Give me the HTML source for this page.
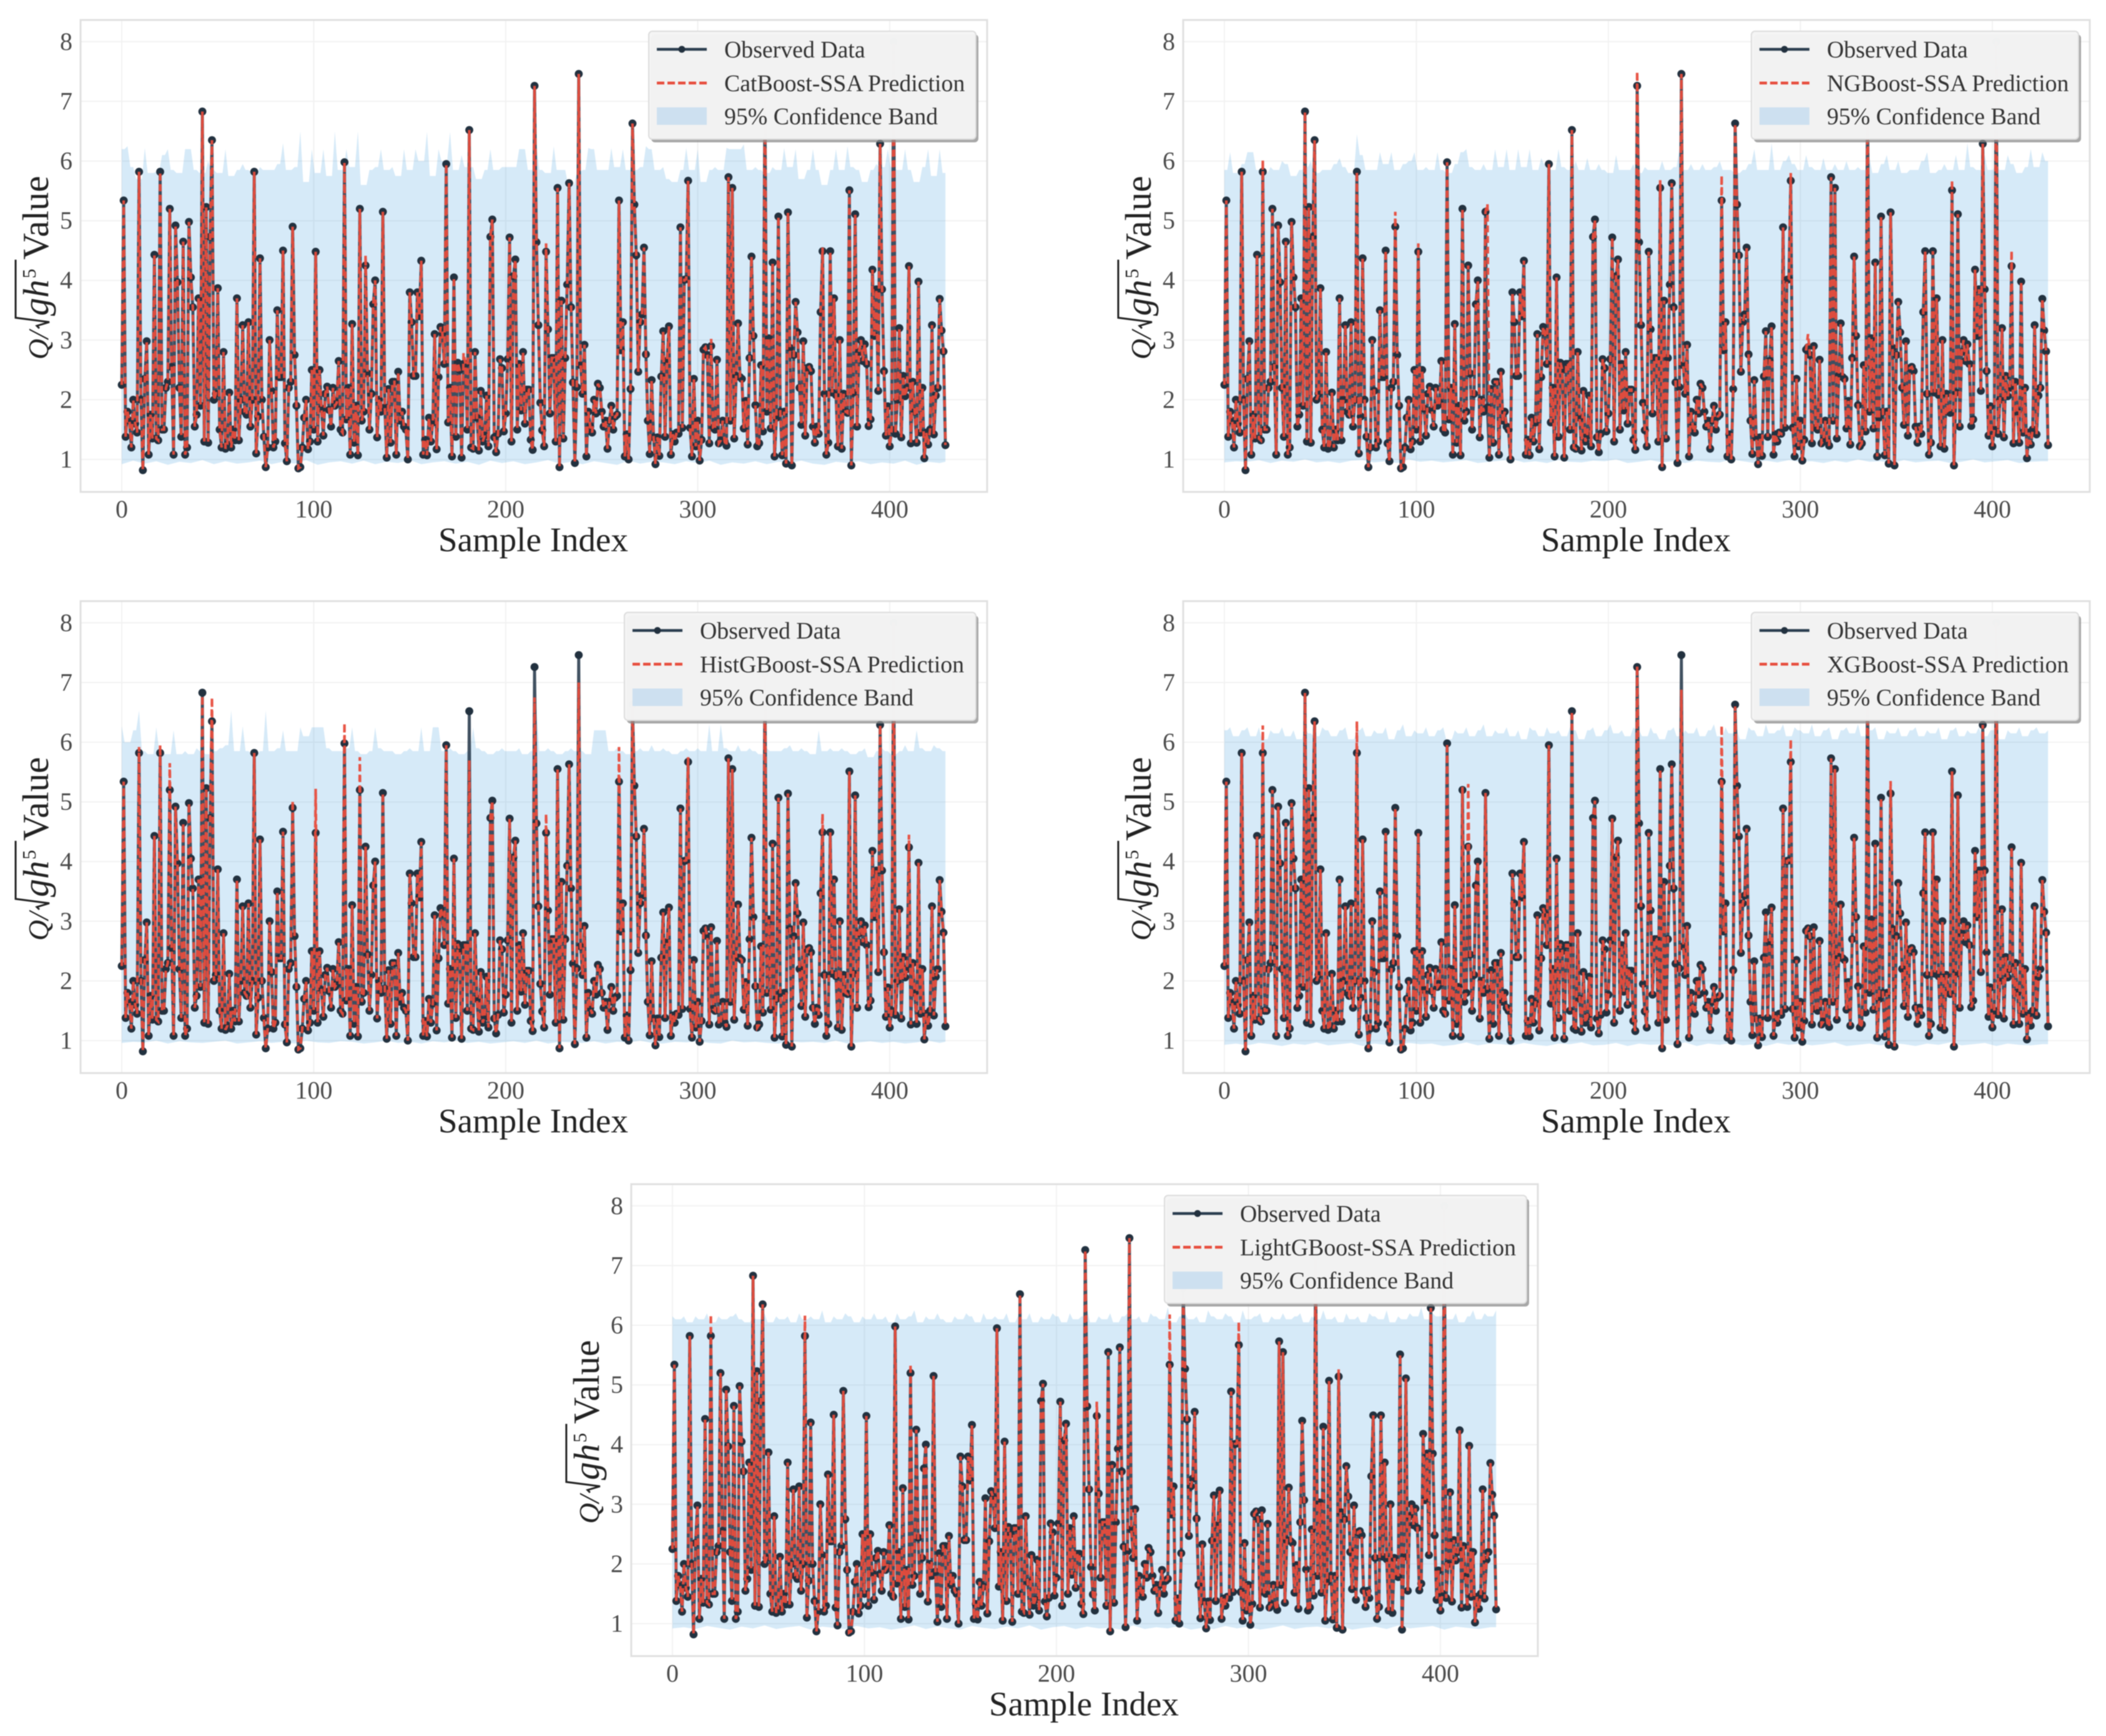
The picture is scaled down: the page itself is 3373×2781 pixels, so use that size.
<!DOCTYPE html>
<html lang="en">
<head>
<meta charset="utf-8">
<title>SSA model predictions versus observed data</title>
<style>
html,body{margin:0;padding:0;background:#fff;}
#figure{display:block;width:3373px;height:2781px;filter:blur(0.8px);font-family:"Liberation Serif",serif;}
</style>
</head>
<body>
<svg id="figure" xmlns="http://www.w3.org/2000/svg" width="3373" height="2781" viewBox="0 0 3373 2781"></svg>
<script>
const xTicks = [0, 100, 200, 300, 400];
const yTicks = [1, 2, 3, 4, 5, 6, 7, 8];
const observed = [
2.25,5.34,1.38,1.8,1.65,1.2,2.0,1.6,1.45,5.82,
2.0,0.82,2.35,2.98,1.08,1.75,1.35,4.43,1.35,1.32,
5.82,1.5,1.5,2.2,2.3,5.2,2.55,1.08,4.92,3.97,
2.2,1.38,4.65,1.08,1.2,4.98,4.05,3.55,1.55,1.75,
3.7,1.9,6.83,1.3,5.23,1.28,4.73,6.35,2.0,2.1,
3.87,1.5,1.2,2.8,1.18,1.25,2.12,1.2,1.5,1.32,
3.7,1.32,2.0,3.25,1.8,1.75,3.3,1.55,2.0,5.82,
1.1,1.72,4.37,2.0,1.38,0.87,1.2,3.0,2.15,1.2,
1.3,3.5,2.38,2.38,4.5,1.27,0.97,2.2,2.3,4.9,
2.75,1.9,0.85,0.87,1.2,1.7,2.0,1.17,1.3,2.5,
1.5,4.48,1.3,2.5,1.85,1.4,2.1,2.22,1.83,1.55,
2.2,1.9,1.95,2.65,1.5,1.45,5.98,1.67,2.2,1.08,
3.27,1.28,1.9,1.07,5.2,1.65,1.8,4.25,2.44,1.5,
2.1,3.6,4.0,1.37,2.0,1.8,5.15,1.87,1.03,2.18,
1.28,2.3,2.3,1.08,2.47,1.65,1.8,1.55,1.5,1.0,
3.8,3.3,2.4,2.4,3.8,3.4,4.33,1.08,1.33,1.07,
1.7,1.3,1.62,3.1,1.17,2.38,3.22,3.12,2.6,5.95,
1.62,2.2,1.05,4.05,1.38,2.62,2.5,1.03,2.6,2.6,
1.5,6.52,1.2,1.18,2.8,1.7,1.15,2.15,1.3,1.4,
2.07,1.22,4.73,5.02,1.37,1.12,1.43,2.68,2.53,1.47,
1.77,2.68,4.72,1.3,4.07,4.35,1.5,2.6,1.82,2.8,
1.6,2.17,2.17,1.33,1.16,7.26,4.64,3.25,1.95,1.49,
1.22,4.48,3.18,1.77,2.7,2.7,1.3,5.55,0.87,3.66,
1.35,2.7,3.93,5.63,3.55,2.29,0.94,2.21,7.46,2.58,
2.1,2.92,1.05,1.8,1.55,1.45,2.0,1.77,2.27,2.2,
1.8,1.55,1.65,1.18,1.65,1.9,1.5,1.72,1.75,5.34,
2.83,3.3,1.05,1.42,1.0,2.18,6.63,5.27,4.42,2.47,
3.3,3.43,4.55,2.76,1.65,1.09,2.33,1.37,0.92,1.37,
1.06,2.39,3.15,1.38,2.65,3.23,1.08,1.42,1.3,1.45,
1.43,4.89,1.53,4.01,4.02,5.67,1.53,1.05,2.35,1.22,
1.65,0.98,1.33,2.84,2.88,2.75,1.27,2.9,1.53,1.5,
2.67,1.27,1.32,1.65,1.3,1.23,5.73,1.65,5.55,1.35,
2.4,3.28,2.38,2.35,1.52,1.98,1.25,2.7,4.4,3.07,
1.91,1.22,1.27,2.58,1.47,7.15,1.8,3.03,1.52,4.3,
1.05,1.7,5.07,1.8,1.07,1.8,0.93,5.14,2.87,0.9,
2.75,3.64,3.13,2.2,1.58,2.98,1.4,2.53,2.55,2.48,
1.55,1.28,1.55,1.43,3.47,4.49,2.1,1.08,1.28,4.49,
2.12,3.7,2.08,1.22,3.0,1.18,2.1,1.8,1.78,5.51,
0.9,2.12,5.11,1.55,2.8,3.0,2.65,2.93,2.6,1.56,
1.67,4.18,3.07,3.85,2.15,6.29,3.85,2.48,1.4,1.89,
1.22,1.5,8.0,1.43,2.0,3.2,1.37,2.4,2.06,2.2,
4.24,1.27,2.3,1.8,1.28,3.98,1.45,2.2,1.02,1.45,
1.25,1.5,3.25,1.42,2.07,2.2,3.69,3.16,2.81,1.24];

// Sample spacing of the band arrays, in sample indices (upper, lower)
const upperStep = 3;
const lowerStep = 6;

const catUpper = [
6.2,6.25,5.9,5.7,6.22,5.8,5.82,6.1,6.2,5.85,5.8,6.2,
6.2,5.85,5.8,6.0,5.85,5.8,6.2,5.75,5.85,5.95,5.85,5.8,
5.9,5.85,5.85,5.95,6.3,5.85,5.9,6.5,5.65,6.2,5.8,6.2,
5.75,6.5,5.85,6.2,5.9,6.5,5.6,5.85,5.9,6.2,5.85,5.9,
5.75,6.2,5.85,6.2,6.0,6.49,5.75,6.2,6.0,6.49,5.85,6.1,
5.9,5.9,5.7,5.85,6.2,5.85,5.9,5.9,5.9,6.2,6.2,5.85,
6.25,5.85,5.8,6.25,5.85,5.85,5.6,5.8,5.85,6.22,6.2,5.85,
5.85,6.22,5.9,6.2,5.85,5.85,5.9,6.25,6.2,5.85,5.9,5.7,
5.65,5.85,6.22,5.85,6.2,5.65,5.85,5.9,5.85,6.22,6.2,6.2,
6.28,5.85,5.9,5.85,5.8,5.9,5.85,6.22,5.9,6.2,5.7,5.85,
6.2,5.85,5.6,5.85,6.2,5.85,6.25,5.9,5.85,5.65,5.85,5.95,
5.9,6.2,5.9,5.85,6.2,5.85,5.65,5.9,6.2,5.75,6.2,5.8];
const ngUpper = [
5.85,6.15,5.8,5.95,6.15,6.15,5.85,5.8,5.9,5.85,6.0,5.95,
5.75,5.85,5.9,6.0,5.8,5.85,5.85,5.95,6.05,5.9,5.8,6.45,
6.1,5.85,5.85,6.15,5.95,6.15,5.85,5.95,6.0,6.15,5.85,5.9,
5.85,6.15,5.85,5.8,5.95,6.15,6.2,5.9,5.85,5.95,5.85,6.2,
5.9,6.2,5.85,6.2,5.9,6.2,5.85,6.05,5.95,5.85,6.2,5.9,
5.85,6.0,5.85,6.05,5.85,5.95,5.85,5.8,6.1,5.85,5.85,5.95,
5.8,5.9,5.85,5.85,6.0,5.85,5.9,6.2,5.85,5.95,5.85,5.95,
5.85,5.9,6.0,5.85,5.85,5.8,5.85,5.95,6.2,5.85,5.85,6.3,
5.85,6.0,6.1,5.95,5.85,6.1,5.9,5.85,6.05,5.85,5.95,5.85,
6.0,5.85,5.9,5.85,6.05,5.8,5.95,6.1,5.85,6.0,5.8,5.85,
5.85,6.0,6.15,5.8,5.85,5.95,5.85,6.1,5.85,6.3,5.9,5.85,
6.1,5.85,6.0,5.85,6.1,5.95,5.8,5.9,6.2,5.9,6.15,6.0];
const histUpper = [
6.27,6.0,6.2,6.53,5.85,5.8,6.25,5.85,5.8,6.2,5.8,5.85,
5.8,5.9,5.85,5.8,5.85,5.9,5.95,6.53,5.85,6.27,5.85,5.8,
5.85,6.53,5.85,5.9,6.2,5.85,5.85,6.25,6.1,6.25,6.25,6.25,
5.9,5.85,5.85,5.9,6.25,5.85,5.8,5.85,6.25,5.9,5.85,5.85,
5.8,5.85,5.9,5.85,6.25,5.85,6.25,6.25,5.85,5.9,5.85,5.8,
5.85,6.25,5.9,5.85,5.8,5.85,5.9,5.85,5.85,5.9,5.8,5.85,
6.53,5.85,5.9,5.85,5.8,5.85,5.9,5.85,5.85,5.8,6.2,6.2,
6.2,5.85,5.9,5.85,5.8,5.85,5.9,5.85,5.95,5.85,5.9,5.85,
5.8,5.85,5.9,5.85,5.9,5.85,6.3,5.85,6.3,5.9,5.85,5.95,
5.85,5.9,5.85,5.8,5.9,5.85,5.85,5.9,5.95,5.85,5.9,5.85,
5.8,6.2,5.85,5.9,5.85,5.9,5.85,5.8,5.85,5.9,5.75,5.85,
5.9,5.85,5.8,5.85,5.95,5.85,6.2,5.9,5.85,5.95,5.9,5.85];
const xgbUpper = [
6.2,6.25,6.1,6.2,6.25,6.1,6.25,6.05,6.2,6.15,6.25,6.1,
6.2,6.05,6.25,6.15,6.1,6.25,6.2,6.1,6.2,6.25,6.05,6.2,
6.25,6.1,6.2,6.15,6.25,6.05,6.2,6.3,6.1,6.2,6.15,6.25,
6.1,6.2,6.25,6.05,6.2,6.15,6.25,6.1,6.2,6.3,6.1,6.2,
6.15,6.25,6.1,6.2,6.05,6.25,6.2,6.1,6.25,6.15,6.2,6.1,
6.25,6.2,6.05,6.2,6.25,6.1,6.2,6.3,6.15,6.2,6.1,6.25,
6.2,6.1,6.25,6.15,6.05,6.2,6.25,6.1,6.2,6.15,6.25,6.1,
6.2,6.3,6.1,6.25,6.15,6.2,6.05,6.25,6.2,6.1,6.3,6.15,
6.2,6.3,6.1,6.25,6.2,6.15,6.3,6.1,6.2,6.25,6.05,6.2,
6.25,6.15,6.3,6.1,6.2,6.25,6.05,6.2,6.15,6.25,6.1,6.2,
6.25,6.1,6.2,6.15,6.25,6.05,6.2,6.25,6.1,6.2,6.15,6.25,
6.1,6.2,6.25,6.05,6.2,6.15,6.25,6.1,6.2,6.25,6.15,6.2];
const lightUpper = [
6.15,6.1,6.15,6.05,6.15,6.1,6.2,6.05,6.15,6.1,6.15,6.2,
6.1,6.05,6.15,6.1,6.2,6.05,6.15,6.1,6.15,6.05,6.2,6.1,
6.15,6.1,6.25,6.05,6.15,6.1,6.2,6.15,6.05,6.15,6.1,6.2,
6.1,6.15,6.05,6.2,6.1,6.15,6.25,6.05,6.15,6.1,6.2,6.1,
6.05,6.15,6.1,6.2,6.15,6.05,6.2,6.1,6.15,6.1,6.2,6.05,
6.15,6.1,6.2,6.05,6.15,6.1,6.2,6.15,6.05,6.2,6.1,6.15,
6.25,6.05,6.15,6.1,6.2,6.05,6.15,6.2,6.1,6.15,6.05,6.2,
6.15,6.1,6.3,6.05,6.15,6.2,6.1,6.15,6.05,6.25,6.15,6.1,
6.2,6.15,6.05,6.25,6.1,6.15,6.2,6.05,6.15,6.1,6.2,6.1,
6.15,6.2,6.05,6.15,6.1,6.25,6.1,6.15,6.05,6.2,6.1,6.15,
6.05,6.2,6.15,6.1,6.25,6.05,6.15,6.1,6.2,6.15,6.3,6.1,
6.2,6.15,6.25,6.1,6.2,6.05,6.15,6.25,6.1,6.2,6.15,6.25];

const catLower = [
0.92,0.98,0.93,0.97,0.91,0.96,0.94,0.99,0.92,0.97,0.93,0.95,
0.98,0.92,0.96,0.93,0.99,0.91,0.95,0.97,0.93,0.98,0.92,0.96,
0.94,0.99,0.92,0.95,0.97,0.93,0.96,0.91,0.98,0.94,0.97,0.92,
0.95,0.99,0.93,0.96,0.92,0.97,0.94,0.91,0.98,0.93,0.96,0.95,
0.92,0.97,0.94,0.98,0.91,0.95,0.93,0.97,0.92,0.96,0.94,0.98,
0.93,0.91,0.96,0.94,0.97,0.92,0.95,0.93,0.98,0.91,0.96,0.94,0.96];
const ngLower = [
0.95,0.97,0.96,0.99,0.94,0.98,0.96,1.0,0.95,0.97,0.94,0.98,
0.99,0.95,0.97,0.94,1.0,0.96,0.98,0.95,0.97,0.99,0.94,0.96,
0.98,1.0,0.95,0.97,0.94,0.99,0.96,0.95,0.98,0.97,1.0,0.94,
0.96,0.99,0.95,0.97,0.94,0.98,0.96,0.95,1.0,0.97,0.94,0.98,
0.95,0.99,0.96,0.97,0.94,0.98,0.95,1.0,0.96,0.97,0.94,0.99,
0.95,0.97,0.98,0.94,0.96,1.0,0.95,0.97,0.99,0.94,0.96,0.97,0.97];
const histLower = [
0.96,0.98,0.97,1.0,0.95,0.99,0.97,0.96,0.98,1.0,0.95,0.97,
0.99,0.96,0.98,0.95,1.0,0.97,0.96,0.99,0.98,0.95,0.97,1.0,
0.96,0.98,0.95,0.99,0.97,1.0,0.96,0.98,0.95,0.97,0.99,0.96,
1.0,0.95,0.98,0.97,0.96,0.99,0.95,0.98,0.97,1.0,0.96,0.95,
0.98,0.97,0.99,0.96,0.95,1.0,0.97,0.98,0.96,0.95,0.99,0.97,
0.98,0.96,1.0,0.95,0.97,0.99,0.96,0.98,0.95,0.97,1.0,0.96,0.98];
const xgbLower = [
0.93,0.95,0.92,0.96,0.94,0.91,0.95,0.93,0.97,0.92,0.94,0.96,
0.91,0.95,0.93,0.92,0.96,0.94,0.95,0.91,0.93,0.97,0.92,0.95,
0.94,0.92,0.96,0.93,0.91,0.95,0.94,0.97,0.92,0.93,0.96,0.91,
0.95,0.93,0.94,0.92,0.97,0.91,0.95,0.93,0.96,0.92,0.94,0.91,
0.96,0.93,0.95,0.92,0.94,0.97,0.91,0.93,0.95,0.92,0.96,0.94,
0.91,0.95,0.93,0.97,0.92,0.94,0.96,0.91,0.95,0.93,0.92,0.94,0.94];
const lightLower = [
0.92,0.94,0.91,0.96,0.93,0.9,0.95,0.92,0.97,0.91,0.94,0.96,
0.9,0.95,0.93,0.91,0.96,0.92,0.94,0.9,0.93,0.97,0.91,0.95,
0.92,0.9,0.96,0.93,0.91,0.95,0.92,0.97,0.9,0.94,0.96,0.91,
0.95,0.92,0.93,0.9,0.97,0.91,0.94,0.92,0.96,0.9,0.93,0.91,
0.96,0.92,0.95,0.9,0.93,0.97,0.91,0.94,0.95,0.92,0.96,0.9,
0.93,0.95,0.91,0.97,0.92,0.94,0.96,0.9,0.95,0.93,0.91,0.94,0.94];

// Predictions follow the observations except where the picture shows them diverging.
const catPredIndex = [127, 221, 178, 307, 365];
const catPredValue = [4.42, 4.62, 2.78, 3.02, 4.55];
const ngPredIndex = [20, 215, 89, 101, 227, 259, 295, 304, 379, 137, 410];
const ngPredValue = [6.02, 7.5, 5.15, 4.62, 5.68, 5.76, 5.8, 3.1, 5.68, 5.28, 4.5];
const histPredIndex = [9, 20, 25, 42, 47, 89, 101, 116, 124, 181, 215, 221, 238, 259, 295, 365, 410];
const histPredValue = [5.92, 5.95, 5.65, 6.78, 6.75, 5.02, 5.22, 6.32, 5.75, 5.7, 6.75, 4.8, 7.0, 5.92, 5.75, 4.8, 4.45];
const xgbPredIndex = [20, 69, 124, 127, 215, 238, 259, 266, 295, 347];
const xgbPredValue = [6.28, 6.35, 5.25, 5.3, 7.28, 6.88, 6.28, 6.6, 6.05, 5.35];
const lightPredIndex = [20, 69, 124, 221, 259, 266, 295, 347];
const lightPredValue = [6.18, 6.16, 5.35, 4.72, 6.18, 6.5, 6.06, 5.26];

const modelNames = ["CatBoost-SSA Prediction", "NGBoost-SSA Prediction", "HistGBoost-SSA Prediction", "XGBoost-SSA Prediction", "LightGBoost-SSA Prediction"];
const modelKeys = ["catboost", "ngboost", "histgboost", "xgboost", "lightgboost"];
const upperBands = [catUpper, ngUpper, histUpper, xgbUpper, lightUpper];
const lowerBands = [catLower, ngLower, histLower, xgbLower, lightLower];
const predIndexes = [catPredIndex, ngPredIndex, histPredIndex, xgbPredIndex, lightPredIndex];
const predValues = [catPredValue, ngPredValue, histPredValue, xgbPredValue, lightPredValue];

const layoutX = [0, 1766, 0, 1766, 882];
const layoutY = [0, 0, 931, 931, 1865];
const legendLeft = [1039, 1039, 1000, 1039, 983];

const NS = "http://www.w3.org/2000/svg";
const root = document.getElementById("figure");

function make(tag, attrs, parent) {
  const node = document.createElementNS(NS, tag);
  for (const key in attrs) node.setAttribute(key, attrs[key]);
  parent.appendChild(node);
  return node;
}
function xScale(i) { return 195 + 3.075 * i; }
function yScale(v) { return 736 - (v - 1) * 95.6; }

function drawPanel(p) {
  const key = modelKeys[p];
  const panel = make("g", {transform: "translate(" + layoutX[p] + "," + layoutY[p] + ")"}, root);
  
  

  const bg = make("rect", {x: 129, y: 32, width: 1452, height: 756, fill: "#fff"}, panel);
  
  

  // grid
  xTicks.forEach(function (t) {
    const line = make("line", {x1: xScale(t), x2: xScale(t), y1: 32, y2: 788, stroke: "#f2f2f2", "stroke-width": 2}, panel);
    
    
  });
  yTicks.forEach(function (t) {
    const line = make("line", {x1: 129, x2: 1581, y1: yScale(t), y2: yScale(t), stroke: "#f2f2f2", "stroke-width": 2}, panel);
    
    
  });

  // confidence band: peaks stay narrow by stepping through the lower neighbour between samples
  const last = observed.length - 1;
  const pts = [];
  const ups = upperBands[p];
  ups.forEach(function (v, k) {
    const ix = Math.min(k * upperStep, last);
    pts.push(xScale(ix).toFixed(1) + "," + yScale(v).toFixed(1));
    if (k < ups.length - 1) {
      const floorV = Math.min(v, ups[k + 1]);
      const nx = Math.min((k + 1) * upperStep, last);
      pts.push(xScale((ix + nx) / 2).toFixed(1) + "," + yScale(floorV).toFixed(1));
    }
  });
  const lows = lowerBands[p];
  for (let k = lows.length - 1; k >= 0; k--) {
    pts.push(xScale(Math.min(k * lowerStep, last)).toFixed(1) + "," + yScale(lows[k]).toFixed(1));
  }
  const band = make("polygon", {points: pts.join(" "), fill: "#3498db", "fill-opacity": 0.2}, panel);
  
  

  // observed series
  const obsPts = observed.map(function (v, i) { return xScale(i).toFixed(1) + "," + yScale(v).toFixed(1); }).join(" ");
  const obsLine = make("polyline", {points: obsPts, fill: "none", stroke: "#2c3e50", "stroke-width": 4.8, "stroke-opacity": 0.9, "stroke-linejoin": "round"}, panel);
  
  
  observed.forEach(function (v, i) {
    const dot = make("circle", {cx: xScale(i).toFixed(1), cy: yScale(v).toFixed(1), r: 6.4, fill: "#22313f"}, panel);
    
    
  });

  // prediction series
  const pred = observed.slice();
  predIndexes[p].forEach(function (idx, k) { pred[idx] = predValues[p][k]; });
  const predPts = pred.map(function (v, i) { return xScale(i).toFixed(1) + "," + yScale(v).toFixed(1); }).join(" ");
  const predLine = make("polyline", {points: predPts, fill: "none", stroke: "#e74c3c", "stroke-width": 4.2, "stroke-opacity": 0.95, "stroke-dasharray": "11 6"}, panel);
  
  

  // frame
  const frame = make("rect", {x: 129, y: 32, width: 1452, height: 756, fill: "none", stroke: "#e0e0e0", "stroke-width": 3}, panel);
  
  

  // tick labels
  xTicks.forEach(function (t) {
    const label = make("text", {x: xScale(t), y: 829, "text-anchor": "middle", "font-size": 40, fill: "#4a4a4a"}, panel);
    label.textContent = String(t);
    
    
  });
  yTicks.forEach(function (t) {
    const label = make("text", {x: 116, y: yScale(t) + 13, "text-anchor": "end", "font-size": 40, fill: "#4a4a4a"}, panel);
    label.textContent = String(t);
    
    
  });

  // x axis title
  const xTitle = make("text", {x: 854, y: 883, "text-anchor": "middle", "font-size": 55, fill: "#222"}, panel);
  xTitle.textContent = "Sample Index";
  
  

  // y axis title
  const yTitle = make("g", {transform: "translate(77,576) rotate(-90)", fill: "#222"}, panel);
  
  
  const qPart = make("text", {x: 0, y: 0, "font-size": 46, "font-style": "italic"}, yTitle);
  qPart.textContent = "Q/";
  
  
  const radical = make("path", {d: "M50,-14 L54,-18 L60,2 L67,-52 L160,-52", fill: "none", stroke: "#222", "stroke-width": 3}, yTitle);
  
  
  const ghPart = make("text", {x: 70, y: 0, "font-size": 58, "font-style": "italic"}, yTitle);
  ghPart.textContent = "gh";
  
  
  const expPart = make("text", {x: 130, y: -20, "font-size": 31}, yTitle);
  expPart.textContent = "5";
  
  
  const valuePart = make("text", {x: 160, y: 0, "font-size": 59}, yTitle);
  valuePart.textContent = "Value";
  
  

  // legend
  const left = legendLeft[p];
  const legend = make("g", {}, panel);
  
  
  const shadow = make("rect", {x: left + 4, y: 55, width: 1563 - left, height: 173, rx: 6, fill: "#8a8a8a", "fill-opacity": 0.75}, legend);
  
  
  const box = make("rect", {x: left, y: 50, width: 1563 - left, height: 173, rx: 6, fill: "#f5f5f5", "fill-opacity": 0.97, stroke: "#dcdcdc", "stroke-width": 2}, legend);
  
  
  const hx = left + 13;
  const tx = left + 121;
  const obsHandle = make("line", {x1: hx, x2: hx + 80, y1: 79, y2: 79, stroke: "#2c3e50", "stroke-width": 4.5}, legend);
  
  
  const obsDot = make("circle", {cx: hx + 40, cy: 79, r: 5.5, fill: "#22313f"}, legend);
  
  
  const predHandle = make("line", {x1: hx, x2: hx + 80, y1: 133, y2: 133, stroke: "#e74c3c", "stroke-width": 4.5, "stroke-dasharray": "12 5"}, legend);
  
  
  const bandHandle = make("rect", {x: hx, y: 172, width: 80, height: 28, fill: "#cde0f0"}, legend);
  
  
  const obsText = make("text", {x: tx, y: 92, "font-size": 37.8, fill: "#333"}, legend);
  obsText.textContent = "Observed Data";
  
  
  const predText = make("text", {x: tx, y: 146, "font-size": 37.8, fill: "#333"}, legend);
  predText.textContent = modelNames[p];
  
  
  const bandText = make("text", {x: tx, y: 199, "font-size": 37.8, fill: "#333"}, legend);
  bandText.textContent = "95% Confidence Band";
  
  
}

modelKeys.forEach(function (k, p) { drawPanel(p); });
</script>
</body>
</html>
